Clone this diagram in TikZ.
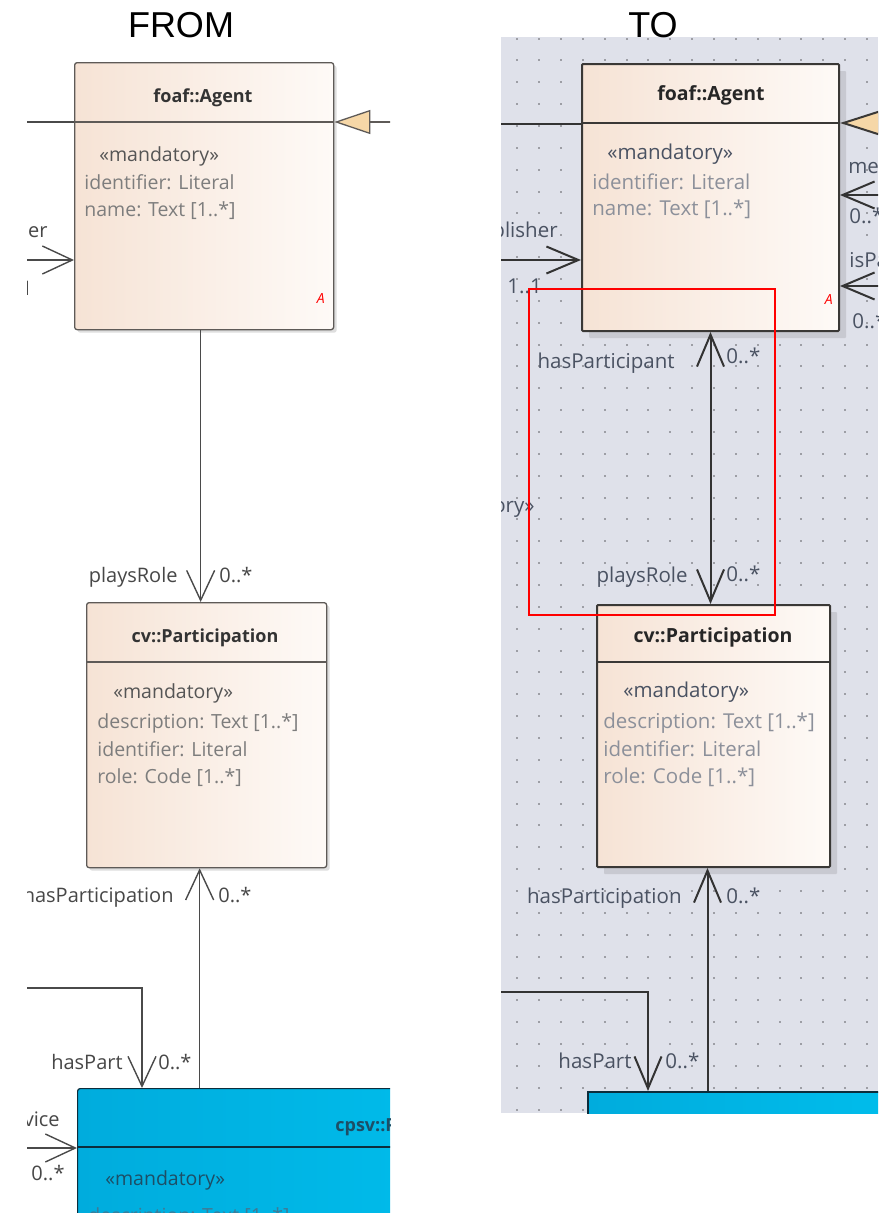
\documentclass[tikz,border=0pt]{standalone}
\usepackage{fontspec}
\setmainfont{Open Sans}
\newfontfamily\headfont{Liberation Sans}
\usetikzlibrary{arrows.meta}
\usetikzlibrary{shadows}
\usepackage{xcolor}

\definecolor{peachL}{HTML}{F6E3D5}
\definecolor{peachR}{HTML}{FEFAF7}
\definecolor{boxlineA}{HTML}{5E5A57}
\definecolor{boxlineB}{HTML}{3A3836}
\definecolor{lineA}{HTML}{4A4A4A}
\definecolor{lineB}{HTML}{333333}
\definecolor{lblA}{HTML}{474747}
\definecolor{lblB}{HTML}{4A5262}
\definecolor{stereoA}{HTML}{555555}
\definecolor{attrA}{HTML}{7D7D7D}
\definecolor{attrB}{HTML}{8C909A}
\definecolor{gridbg}{HTML}{DFE1EA}
\definecolor{griddot}{HTML}{9D9EA5}
\definecolor{genfill}{HTML}{F6D7A7}
\definecolor{cpsvL}{HTML}{00ACDD}
\definecolor{cpsvR}{HTML}{00C2F0}
\definecolor{cpsvline}{HTML}{0C2D3C}
\definecolor{cpsvtxt}{HTML}{1D4E66}
\definecolor{cpsvattr}{HTML}{3F7A96}
\definecolor{shadowB}{HTML}{C8C9D1}
\newcommand{\fsz}[1]{\fontsize{#1}{#1}\selectfont}

\begin{document}
\begin{tikzpicture}[x=1pt,y=-1pt,thick]
\tikzset{
classA/.style = {draw=boxlineA,line width=1.3pt,rounded corners=2.5pt,left color=peachL,right color=peachR,anchor=north west,inner sep=0pt,
  drop shadow={shadow xshift=3pt,shadow yshift=-3pt,fill=black!13,opacity=1}},
classB/.style = {draw=boxlineB,line width=2pt,rounded corners=1pt,left color=peachL,right color=peachR,anchor=north west,inner sep=0pt,
  drop shadow={shadow xshift=7pt,shadow yshift=-7pt,fill=shadowB,opacity=1}},
cpsvA/.style = {draw=cpsvline,line width=1.2pt,rounded corners=2.5pt,left color=cpsvL,right color=cpsvR,anchor=north west,inner sep=0pt},
cpsvB/.style = {draw=cpsvline,line width=2pt,left color=cpsvL,right color=cpsvR,anchor=north west,inner sep=0pt},
nameA/.style = {font=\bfseries\fsz{18},text=black!80,anchor=base,inner sep=0pt},
nameB/.style = {font=\bfseries\fsz{19.5},text=black!85,anchor=base,inner sep=0pt},
stereoA/.style = {font=\fsz{19.5},text=stereoA,anchor=base west,inner sep=0pt},
attrA/.style = {font=\fsz{19.5},text=attrA,anchor=base west,inner sep=0pt},
stereoB/.style = {font=\fsz{20.5},text=lblB,anchor=base west,inner sep=0pt},
attrB/.style = {font=\fsz{20.5},text=attrB,anchor=base west,inner sep=0pt},
lblA/.style = {font=\fsz{20},text=lblA,inner sep=0pt},
lblB/.style = {font=\fsz{20.5},text=lblB,inner sep=0pt},
abstr/.style = {font=\itshape\fsz{14},text=red,anchor=base east,inner sep=0pt},
sepA/.style = {draw=boxlineA,line width=1.3pt},
sepB/.style = {draw=boxlineB,line width=2pt},
barbA/.tip = {Straight Barb[length=30pt,width=28pt]},
barbB/.tip = {Straight Barb[length=32pt,width=27pt]},
navA/.style = {draw=lineA,line width=1.4pt,-barbA},
navB/.style = {draw=lineB,line width=2pt,-barbB},
genA/.style = {draw=boxlineA,line width=1.3pt,-{Triangle[length=36pt,width=24pt,fill=genfill]}},
genB/.style = {draw=boxlineB,line width=2pt,-{Triangle[length=40pt,width=25pt,fill=genfill]}},
}
\useasboundingbox (0,0) rectangle (892,1213);
\fill[white] (0,0) rectangle (892,1213);

% ---------------- FROM ----------------
\begin{scope}
\clip (27,40) rectangle (390,1213);
\node[classA,minimum width=259pt,minimum height=267pt] (agentA) at (74,62) {};
\node[classA,minimum width=240pt,minimum height=265pt] (partA) at (86,602) {};
\node[cpsvA,minimum width=500pt,minimum height=300pt] (cpsvA) at (77,1088) {};
\coordinate (agentAsep) at (74,122);
\coordinate (partAsep) at (86,662);
\coordinate (cpsvAsep) at (77,1147);
\draw[sepA] (agentAsep) -- (agentAsep -| agentA.east);
\draw[sepA] (partAsep) -- (partAsep -| partA.east);
\draw[draw=cpsvline,line width=1.2pt] (cpsvAsep) -- (cpsvAsep -| cpsvA.east);

% connectors
\coordinate (leftA) at (20,122);
\coordinate (genAR) at (400,122);
\coordinate (pubA) at (20,260);
\coordinate (hpA) at (20,988);
\coordinate (hpAC) at (142,988);
\coordinate (svA) at (20,1148);
\draw[draw=lineA,line width=1.4pt] (leftA) -- (leftA -| agentA.west);
\draw[genA] (genAR) -- (genAR -| agentA.east);
\draw[navA] (pubA) -- (pubA -| agentA.west);
\draw[navA] ([xshift=-3.5pt]agentA.south) -- ([xshift=-3.5pt]agentA.south |- partA.north);
\draw[navA] ([xshift=-7pt]partA.south |- cpsvA.north) -- ([xshift=-7pt]partA.south);
\draw[navA] (hpA) -- (hpAC) -- (hpAC |- cpsvA.north);
\draw[navA] (svA) -- (svA -| cpsvA.west);

% texts
\node[nameA] (agentAname) at (203,102) {foaf::Agent};
\node[stereoA] (agentAst) at (99,161) {«mandatory»};
\node[attrA] (agentAat1) at (84,189) {identifier: Literal};
\node[attrA] (agentAat2) at (84,216) {name: Text [1..*]};
\node[abstr] (agentAabs) at (325,303) {A};
\node[nameA] (partAname) at (205,642) {cv::Participation};
\node[stereoA] (partAst) at (113,698) {«mandatory»};
\node[attrA] (partAat1) at (97,728) {description: Text [1..*]};
\node[attrA] (partAat2) at (97,756) {identifier: Literal};
\node[attrA] (partAat3) at (97,783) {role: Code [1..*]};
\node[font=\bfseries\fsz{18},text=cpsvtxt,anchor=base west,inner sep=0pt] (cpsvAname) at (335,1131) {cpsv::PublicService};
\node[stereoA,text=cpsvtxt] (cpsvAst) at (105,1185) {«mandatory»};
\node[attrA,text=cpsvattr] (cpsvAat1) at (88,1222) {description: Text [1..*]};

% roles
\node[lblA,anchor=base east] (pubAlbl) at (48,237) {publisher};
\node[lblA,anchor=base east] (pubAmul) at (33,295) {1..1};
\node[lblA,anchor=base east] (roleAlbl) at (178,582) {playsRole};
\node[lblA,anchor=base west] (roleAmul) at (219,582) {0..*};
\node[lblA,anchor=base east] (hpnAlbl) at (174,902) {hasParticipation};
\node[lblA,anchor=base west] (hpnAmul) at (218,902) {0..*};
\node[lblA,anchor=base east] (hpAlbl) at (123,1069) {hasPart};
\node[lblA,anchor=base west] (hpAmul) at (158,1069) {0..*};
\node[lblA,anchor=base east] (svAlbl) at (60,1126) {vice};
\node[lblA,anchor=base east] (svAmul) at (65,1180) {0..*};
\end{scope}

% ---------------- TO ----------------
\fill[gridbg] (501,37) rectangle (878,1113);
\begin{scope}
\clip (501,37) rectangle (878,1113);
\foreach \gx in {0,...,16}
  \foreach \gy in {0,...,49}
    \fill[griddot] ({516.3+21.86*\gx},{37.5+21.86*\gy}) rectangle ++(2,2);

\node[classB,minimum width=257pt,minimum height=267pt] (agentB) at (581,63) {};
\node[classB,minimum width=233pt,minimum height=262pt] (partB) at (596,604) {};
\node[cpsvB,minimum width=400pt,minimum height=100pt] (cpsvB) at (587,1091) {};
\coordinate (agentBsep) at (581,123);
\coordinate (partBsep) at (596,662);
\draw[sepB] (agentBsep) -- (agentBsep -| agentB.east);
\draw[sepB] (partBsep) -- (partBsep -| partB.east);

% connectors
\coordinate (leftB) at (495,124);
\coordinate (genBR) at (884,123);
\coordinate (meB) at (884,195);
\coordinate (ispB) at (884,286);
\coordinate (pubB) at (495,260);
\coordinate (hpB) at (495,992);
\coordinate (hpBC) at (648,992);
\draw[draw=lineB,line width=2pt] (leftB) -- (leftB -| agentB.west);
\draw[genB] (genBR) -- (genBR -| agentB.east);
\draw[navB] (meB) -- (meB -| agentB.east);
\draw[navB] (ispB) -- (ispB -| agentB.east);
\draw[navB] (pubB) -- (pubB -| agentB.west);
\draw[navB,barbB-barbB] (agentB.south) -- (agentB.south |- partB.north);
\draw[navB] ([xshift=-6pt]partB.south |- cpsvB.north) -- ([xshift=-6pt]partB.south);
\draw[navB] (hpB) -- (hpBC) -- (hpBC |- cpsvB.north);

% texts
\node[nameB] (agentBname) at (711,100) {foaf::Agent};
\node[stereoB] (agentBst) at (607,159) {«mandatory»};
\node[attrB] (agentBat1) at (592,189) {identifier: Literal};
\node[attrB] (agentBat2) at (592,215) {name: Text [1..*]};
\node[abstr] (agentBabs) at (833,304) {A};
\node[nameB] (partBname) at (713,642) {cv::Participation};
\node[stereoB] (partBst) at (623,697) {«mandatory»};
\node[attrB] (partBat1) at (603,728) {description: Text [1..*]};
\node[attrB] (partBat2) at (603,756) {identifier: Literal};
\node[attrB] (partBat3) at (603,783) {role: Code [1..*]};

% roles
\node[lblB,anchor=base east] (pubBlbl) at (558,237) {publisher};
\node[lblB,anchor=base west] (pubBmul) at (507,293) {1..1};
\node[lblB,anchor=base west] (meBlbl) at (848,173) {member};
\node[lblB,anchor=base west] (meBmul) at (849,223) {0..*};
\node[lblB,anchor=base west] (ispBlbl) at (849,267) {isPartOf};
\node[lblB,anchor=base west] (ispBmul) at (852,328) {0..*};
\node[lblB,anchor=base east] (hpnBlbl) at (675,368) {hasParticipant};
\node[lblB,anchor=base west] (hpnBmul) at (726,363) {0..*};
\node[lblB,anchor=base east] (stBlbl) at (535,512) {«mandatory»};
\node[lblB,anchor=base east] (roleBlbl) at (688,582) {playsRole};
\node[lblB,anchor=base west] (roleBmul) at (726,581) {0..*};
\node[lblB,anchor=base east] (hpnB2lbl) at (682,903) {hasParticipation};
\node[lblB,anchor=base west] (hpnB2mul) at (726,903) {0..*};
\node[lblB,anchor=base east] (hpBlbl) at (632,1068) {hasPart};
\node[lblB,anchor=base west] (hpBmul) at (665,1068) {0..*};

% highlight
\draw[red,line width=1.6pt] (529,289) rectangle (775,615);
\end{scope}

% Headings.
\node[font=\headfont\fsz{36}] (fromhead) at (181,25) {FROM};
\node[font=\headfont\fsz{36}] (tohead) at (653,25) {TO};
\end{tikzpicture}
\end{document}
